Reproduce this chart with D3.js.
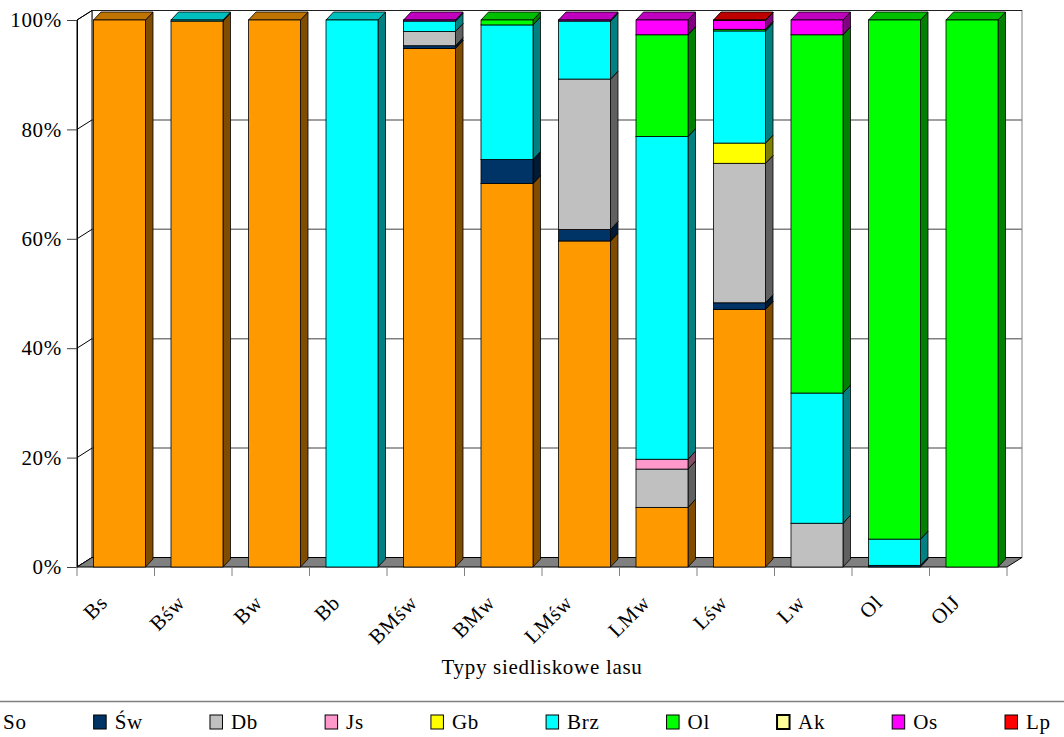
<!DOCTYPE html>
<html lang="pl">
<head>
    <meta charset="UTF-8">
    <title>Typy siedliskowe lasu</title>
    <script src="https://d3js.org/d3.v7.min.js"></script>
    <style>
        body { margin: 0; background: #fff; }
        text {
            font-family: 'Liberation Serif', 'Times New Roman', serif;
            font-size: 21px;
            letter-spacing: 0.7px;
            fill: #000;
        }
    </style>
</head>
<body>
<script>
    const width  = 1064;
    const height = 737;

    // data (percent share of species per site type)
    const categories = ["Bs", "Bśw", "Bw", "Bb", "BMśw", "BMw", "LMśw", "LMw", "Lśw", "Lw", "Ol", "OlJ"];
    const seriesNames = ["So", "Św", "Db", "Js", "Gb", "Brz", "Ol", "Ak", "Os", "Lp"];
    const seriesColors = ["#FF9900", "#003366", "#C0C0C0", "#FF99CC", "#FFFF00", "#00FFFF", "#00FF00", "#FFFF99", "#FF00FF", "#FF0000"];

    const So  = [100, 99.8, 100, 0, 94.8, 70.1, 59.6, 10.9, 47.1, 0, 0, 0];
    const Sw  = [0, 0, 0, 0, 0.5, 4.4, 2.1, 0, 1.2, 0, 0.3, 0];
    const Db  = [0, 0, 0, 0, 2.6, 0, 27.5, 7.0, 25.5, 8.0, 0, 0];
    const Js  = [0, 0, 0, 0, 0, 0, 0, 1.8, 0, 0, 0, 0];
    const Gb  = [0, 0, 0, 0, 0, 0, 0, 0, 3.7, 0, 0, 0];
    const Brz = [0, 0.2, 0, 100, 1.9, 24.6, 10.6, 59.0, 20.5, 23.8, 4.8, 0];
    const Ol  = [0, 0, 0, 0, 0, 0.9, 0, 18.6, 0.3, 65.5, 94.9, 100];
    const Ak  = [0, 0, 0, 0, 0, 0, 0, 0, 0, 0, 0, 0];
    const Os  = [0, 0, 0, 0, 0.2, 0, 0.2, 2.7, 1.6, 2.7, 0, 0];
    const Lp  = [0, 0, 0, 0, 0, 0, 0, 0, 0.1, 0, 0, 0];

    const yTicks = [0, 20, 40, 60, 80, 100];

    const seriesValues = [So, Sw, Db, Js, Gb, Brz, Ol, Ak, Os, Lp];

    // layout
    const plotLeft = 77, plotRight = 1007, plotTop = 20, plotBottom = 567;
    const wallDx = 15, wallDy = -9.5;   // depth of the 3d box
    const barW = 52, barDx = 7.5, barDy = -8;  // bar size & depth

    const rows = categories.map((c, i) => {
        const r = {cat: c};
        seriesNames.forEach((s, k) => r[s] = seriesValues[k][i]);
        return r;
    });
    const stacked = d3.stack().keys(seriesNames)(rows);

    const x = d3.scaleBand().domain(categories).range([plotLeft, plotRight]);
    const y = d3.scaleLinear().domain([0, 100]).range([plotBottom, plotTop]);

    const shade = (c, f) => { const r = d3.rgb(c); return d3.rgb(r.r * f, r.g * f, r.b * f).formatHex(); };

    const svg = d3.select("body").append("svg").attr("width", width).attr("height", height);

    // back wall
    svg.append("rect")
        .attr("x", plotLeft + wallDx).attr("y", plotTop + wallDy)
        .attr("width", plotRight - plotLeft).attr("height", plotBottom - plotTop)
        .attr("fill", "#fff").attr("stroke", "#808080");

    // gridlines on back wall
    svg.selectAll(".grid")
        .data(yTicks.slice(1, -1))
        .enter().append("line")
        .attr("x1", plotLeft + wallDx).attr("x2", plotRight + wallDx)
        .attr("y1", d => y(d) + wallDy).attr("y2", d => y(d) + wallDy)
        .attr("stroke", "#808080").attr("stroke-width", 1.5);

    // top edge of the back wall
    svg.append("line")
        .attr("x1", plotLeft + wallDx).attr("x2", plotRight + wallDx)
        .attr("y1", plotTop + wallDy).attr("y2", plotTop + wallDy)
        .attr("stroke", "#202020").attr("stroke-width", 1.2);

    // left wall
    svg.append("path")
        .attr("d", d3.line()([[plotLeft, plotTop], [plotLeft + wallDx, plotTop + wallDy],
                             [plotLeft + wallDx, plotBottom + wallDy], [plotLeft, plotBottom]]) + "Z")
        .attr("fill", "#fff").attr("stroke", "#000");

    svg.selectAll(".diag")
        .data(yTicks)
        .enter().append("line")
        .attr("x1", plotLeft).attr("x2", plotLeft + wallDx)
        .attr("y1", d => y(d)).attr("y2", d => y(d) + wallDy)
        .attr("stroke", "#000");

    // floor
    svg.append("path")
        .attr("d", d3.line()([[plotLeft, plotBottom], [plotRight, plotBottom],
                             [plotRight + wallDx, plotBottom + wallDy], [plotLeft + wallDx, plotBottom + wallDy]]) + "Z")
        .attr("fill", "#808080").attr("stroke", "#000");

    // bars
    const barLeft = c => x(c) + x.bandwidth() / 2 + wallDx / 2 - barW / 2 - barDx / 2;

    stacked.forEach((layer, k) => {
        const base = seriesColors[k];
        layer.forEach((seg, i) => {
            if (seg[1] - seg[0] <= 0) return;
            const bx = barLeft(categories[i]);
            const yb = y(seg[0]), yt = y(seg[1]);
            const g = svg.append("g").attr("class", "seg");
            // side
            g.append("path")
                .attr("d", d3.line()([[bx + barW, yb], [bx + barW + barDx, yb + barDy],
                                     [bx + barW + barDx, yt + barDy], [bx + barW, yt]]) + "Z")
                .attr("fill", shade(base, 0.5)).attr("stroke", "#000").attr("stroke-width", 0.8);
            // top
            g.append("path")
                .attr("d", d3.line()([[bx, yt], [bx + barW, yt],
                                     [bx + barW + barDx, yt + barDy], [bx + barDx, yt + barDy]]) + "Z")
                .attr("fill", shade(base, 0.75)).attr("stroke", "#000").attr("stroke-width", 0.8);
            // front
            g.append("rect")
                .attr("x", bx).attr("y", yt)
                .attr("width", barW).attr("height", yb - yt)
                .attr("fill", base).attr("stroke", "#000").attr("stroke-width", 0.8);
        });
    });

    // y axis
    const yAxis = svg.append("g")
        .attr("transform", `translate(${plotLeft},0)`)
        .call(d3.axisLeft(y).tickValues(yTicks).tickFormat(d => d + "%").tickSize(10).tickPadding(5));
    yAxis.select(".domain").attr("stroke", "#000");
    yAxis.selectAll(".tick line").attr("stroke", "#404040");
    yAxis.selectAll(".tick text")
        .attr("font-family", null).attr("font-size", null)
        .style("font-family", "'Liberation Serif', 'Times New Roman', serif")
        .style("font-size", "21px").attr("fill", "#000");

    // x axis ticks at category boundaries
    const bounds = categories.map(c => x(c)).concat([plotRight]);
    svg.selectAll(".xtick")
        .data(bounds)
        .enter().append("line")
        .attr("x1", d => d).attr("x2", d => d)
        .attr("y1", plotBottom).attr("y2", plotBottom + 9)
        .attr("stroke", "#808080");

    svg.selectAll(".xlab")
        .data(categories)
        .enter().append("text")
        .attr("text-anchor", "end")
        .attr("transform", d => `translate(${x(d) + x.bandwidth() / 2 - 7},${604}) rotate(-45)`)
        .text(d => d);

    svg.append("text")
        .attr("x", (plotLeft + plotRight) / 2)
        .attr("y", 674)
        .attr("text-anchor", "middle")
        .text("Typy siedliskowe lasu");

    // legend
    svg.append("line")
        .attr("x1", 0).attr("x2", width)
        .attr("y1", 701.5).attr("y2", 701.5)
        .attr("stroke", "#808080").attr("stroke-width", 1.5);

    const legend = svg.selectAll(".legend")
        .data(seriesNames)
        .enter().append("g");

    legend.append("rect")
        .attr("y", 715)
        .attr("width", 12.5).attr("height", 14)
        .attr("fill", (d, i) => seriesColors[i])
        .attr("stroke", "#000")
        .attr("stroke-width", d => d === "Ak" ? 2 : 1);

    legend.append("text")
        .attr("x", 21).attr("y", 729)
        .text(d => d);

    // entries spaced by their text width, first swatch partly off-canvas as in the original
    const legendStart = -18, legendLast = 1005, swatchGap = 21;
    const widths = legend.select("text").nodes().map(n => n.getComputedTextLength());
    const used = d3.sum(widths.slice(0, -1)) + swatchGap * (widths.length - 1);
    const pad = (legendLast - legendStart - used) / (widths.length - 1);
    let pos = legendStart;
    legend.attr("transform", (d, i) => {
        const t = `translate(${pos},0)`;
        pos += swatchGap + widths[i] + pad;
        return t;
    });
</script>
</body>
</html>
